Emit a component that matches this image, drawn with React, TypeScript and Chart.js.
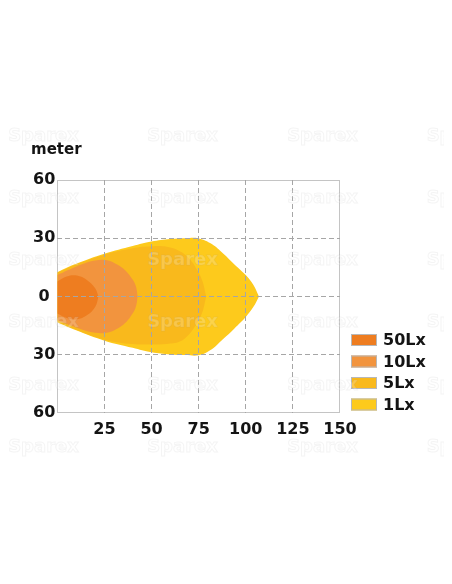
import React, { useEffect, useRef } from 'react';
import { Chart, registerables } from 'chart.js';

Chart.register(...registerables);

// ---- data ----
const legendLabels = ['50Lx', '10Lx', '5Lx', '1Lx'];
const legendColors = ['#EE7D20', '#F2943E', '#F9B91C', '#FDCA1C'];

const lx50X = [0, 5, 10.4, 15.7, 20.1, 21.9];
const lx50Upper = [7.7, 10.3, 10.8, 8.5, 4.2, 0];
const lx50Lower = [-8.8, -11.1, -11.8, -9.7, -5.4, 0];

const lx10X = [0, 8, 15, 22, 27, 32, 36, 39, 41.5, 42.7];
const lx10Upper = [11, 14.5, 17.2, 18.7, 18.5, 16.3, 13.5, 10, 5.9, 0];
const lx10Lower = [-12.3, -15.3, -17.7, -18.9, -18.6, -16.5, -13.7, -10.2, -6, 0];

const lx5X = [0, 10, 25, 40, 50, 58, 65, 70, 74, 77, 79];
const lx5Upper = [12.3, 16.5, 21.5, 24.8, 25.8, 25.6, 23.3, 19.5, 14, 8, 0];
const lx5Lower = [-13, -17.2, -22.3, -24.6, -24.8, -24.5, -23.3, -19.5, -14, -8, 0];

const lx1X = [0, 10, 25, 40, 50, 60, 68, 75, 82, 88, 94, 100, 104, 107];
const lx1Upper = [12.5, 16.8, 22, 26, 28.3, 29.6, 30, 29.9, 27, 22.1, 16.5, 11, 6, 0];
const lx1Lower = [-13.3, -17.5, -22.8, -26.5, -28.8, -29.9, -30.2, -30.3, -27.2, -22, -16.5, -10.6, -5.5, 0];

const xMin = 0;
const xMax = 150;
const xStep = 25;
const yMin = -60;
const yMax = 60;
const yStep = 30;
const axisTitle = 'meter';
const watermarkText = 'Sparex';

const FONT = '"DejaVu Sans", Verdana, sans-serif';

const shapes = [
  { label: legendLabels[0], x: lx50X, up: lx50Upper, lo: lx50Lower },
  { label: legendLabels[1], x: lx10X, up: lx10Upper, lo: lx10Lower },
  { label: legendLabels[2], x: lx5X, up: lx5Upper, lo: lx5Lower },
  { label: legendLabels[3], x: lx1X, up: lx1Upper, lo: lx1Lower },
];

const framePlugin = {
  id: 'frame',
  beforeDatasetsDraw(chart: any) {
    const { ctx, chartArea: a } = chart;
    ctx.save();
    ctx.strokeStyle = '#c4c4c4';
    ctx.lineWidth = 1;
    ctx.strokeRect(Math.round(a.left) + 0.5, Math.round(a.top) + 0.5, Math.round(a.right - a.left) - 1, Math.round(a.bottom - a.top) - 1);
    ctx.restore();
  },
};

const isoLegendPlugin = {
  id: 'isoLegend',
  afterDraw(chart: any) {
    const { ctx, chartArea: a } = chart;
    ctx.save();
    const boxX = a.right + 11;
    const boxW = 26;
    const boxH = 12;
    const spacing = 21.5;
    const lastCenter = a.bottom - 8.3;
    ctx.font = `bold 16px ${FONT}`;
    ctx.textBaseline = 'middle';
    ctx.textAlign = 'left';
    legendLabels.forEach((lab, i) => {
      const cy = lastCenter - (legendLabels.length - 1 - i) * spacing;
      ctx.fillStyle = legendColors[i];
      ctx.fillRect(boxX, cy - boxH / 2, boxW, boxH);
      ctx.strokeStyle = '#b8b8b8';
      ctx.lineWidth = 1;
      ctx.strokeRect(boxX + 0.5, cy - boxH / 2 + 0.5, boxW - 1, boxH - 1);
      ctx.fillStyle = '#141414';
      ctx.fillText(lab, boxX + 32, cy + 1);
    });
    ctx.restore();
  },
};

const watermarkPlugin = {
  id: 'watermark',
  afterDraw(chart: any) {
    const { ctx } = chart;
    ctx.save();
    ctx.font = `bold 18px ${FONT}`;
    ctx.textAlign = 'center';
    ctx.textBaseline = 'middle';
    ctx.lineWidth = 1;
    const cols = [35.5, 174.5, 314.5, 454];
    const rows = [128, 190, 252, 314, 377, 439];
    rows.forEach((ry) => {
      cols.forEach((cx) => {
        ctx.fillStyle = 'rgba(255,255,255,0.2)';
        ctx.fillText(watermarkText, cx, ry);
        ctx.strokeStyle = 'rgba(150,150,150,0.1)';
        ctx.strokeText(watermarkText, cx, ry);
      });
    });
    ctx.restore();
  },
};

export default function App() {
  const ref = useRef<HTMLCanvasElement | null>(null);

  useEffect(() => {
    if (!ref.current) return;
    const datasets: any[] = [];
    shapes.forEach((s, i) => {
      datasets.push({
        label: s.label,
        data: s.x.map((x, j) => ({ x, y: s.up[j] })),
        backgroundColor: legendColors[i],
        borderColor: 'rgba(0,0,0,0)',
        borderWidth: 0,
        pointRadius: 0,
        fill: '+1',
        tension: 0.4,
      });
      datasets.push({
        label: s.label + ' lower',
        data: s.x.map((x, j) => ({ x, y: s.lo[j] })),
        backgroundColor: legendColors[i],
        borderColor: 'rgba(0,0,0,0)',
        borderWidth: 0,
        pointRadius: 0,
        fill: false,
        tension: 0.4,
      });
    });

    const gridColor = (edgeA: number, edgeB: number) => (c: any) =>
      c.tick && (c.tick.value === edgeA || c.tick.value === edgeB) ? 'rgba(0,0,0,0)' : '#a6a6a6';

    const chart = new Chart(ref.current, {
      type: 'line',
      data: { datasets },
      options: {
        animation: false,
        responsive: true,
        maintainAspectRatio: false,
        layout: { padding: { left: 23, top: 0, right: 104, bottom: 130 } },
        plugins: {
          legend: { display: false },
          tooltip: { enabled: false },
          title: {
            display: true,
            text: axisTitle,
            align: 'start',
            color: '#141414',
            font: { family: FONT, size: 15, weight: 'bold' },
            padding: { top: 133, bottom: 21 },
          },
        },
        scales: {
          x: {
            type: 'linear',
            min: xMin,
            max: xMax,
            ticks: {
              stepSize: xStep,
              callback: (v: any) => (Number(v) === 0 ? '' : String(v)),
              color: '#141414',
              font: { family: FONT, size: 16, weight: 'bold' },
              padding: 7,
              maxRotation: 0,
            },
            grid: { color: gridColor(xMin, xMax), drawTicks: false, z: 1, lineWidth: 1 },
            border: { display: false, dash: [5, 3] },
          },
          y: {
            type: 'linear',
            min: yMin,
            max: yMax,
            ticks: {
              stepSize: yStep,
              callback: (v: any) => String(Math.abs(Number(v))),
              color: '#141414',
              font: { family: FONT, size: 16, weight: 'bold' },
              padding: 2,
              crossAlign: 'center',
            },
            grid: { color: gridColor(yMin, yMax), drawTicks: false, z: 1, lineWidth: 1 },
            border: { display: false, dash: [5, 3] },
          },
        },
      } as any,
      plugins: [framePlugin, isoLegendPlugin, watermarkPlugin],
    });
    return () => chart.destroy();
  }, []);

  return (
    <div style={{ position: 'relative', width: 436, height: 568 }}>
      <canvas ref={ref} />
    </div>
  );
}
